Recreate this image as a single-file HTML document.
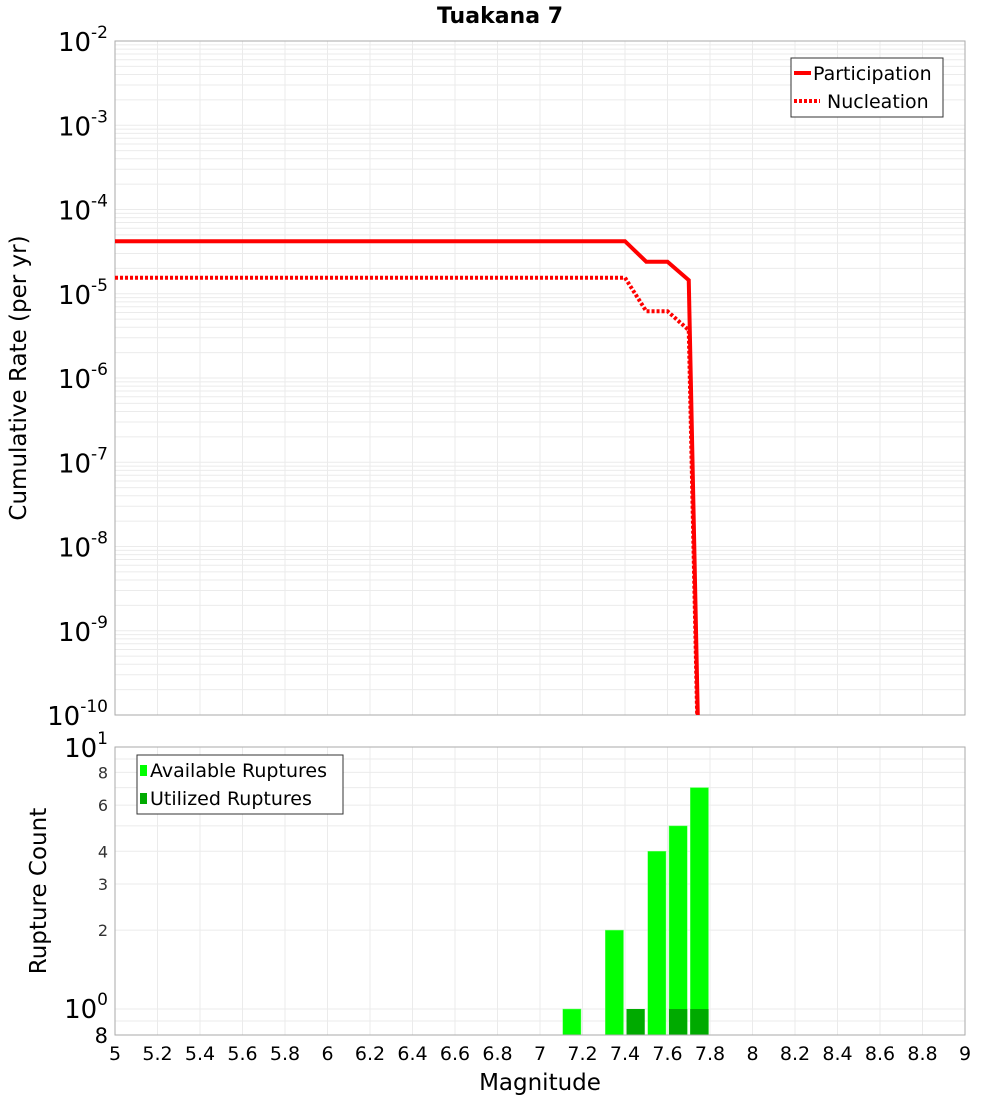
<!DOCTYPE html>
<html><head><meta charset="utf-8"><style>
html,body{margin:0;padding:0;background:#fff;overflow:hidden;width:1000px;height:1100px}
svg{display:block}
svg text{font-family:"DejaVu Sans","Liberation Sans",sans-serif}
</style></head><body>
<svg id="c" width="1000" height="1100" xmlns="http://www.w3.org/2000/svg"></svg>
<script>
const mags=[5,7.4,7.5,7.6,7.7,7.8];
const partRates=[4.2e-5,4.2e-5,2.4e-5,2.4e-5,1.45e-5,1e-17];
const nuclRates=[1.55e-5,1.55e-5,6.2e-6,6.2e-6,3.7e-6,1e-17];
const binMags=[7.1,7.3,7.4,7.5,7.6,7.7];
const availCounts=[1,2,0,4,5,7];
const utilCounts=[0,0,1,0,1,1];
const xTicks=[5,5.2,5.4,5.6,5.8,6,6.2,6.4,6.6,6.8,7,7.2,7.4,7.6,7.8,8,8.2,8.4,8.6,8.8,9];
const yExps=[-2,-3,-4,-5,-6,-7,-8,-9,-10];
const cntLabels=[8,6,4,3,2];

const NS='http://www.w3.org/2000/svg',svg=document.getElementById('c');
function mk(t,a,p){const e=document.createElementNS(NS,t);for(const k in a)e.setAttribute(k,a[k]);(p||svg).appendChild(e);return e;}
const X0=115,X1=965;
const x=m=>X0+(m-5)/4*(X1-X0);
const T0=41,T1=715;
const yT=v=>T0+(-2-Math.log10(v))/8*(T1-T0);
const B0=747,B1=1035,DEC=262;
const yB=v=>1009-Math.log10(v)*DEC;

let g=mk('g',{});

for(let e=-10;e<-2;e++)for(let k=1;k<10;k++){const y=yT(k*Math.pow(10,e));mk('line',{x1:X0,x2:X1,y1:y,y2:y,stroke:'#ebebeb','stroke-width':1},g);}
xTicks.forEach(m=>mk('line',{x1:x(m),x2:x(m),y1:T0,y2:T1,stroke:'#ebebeb'},g));
let r=mk('rect',{x:X0,y:T0,width:X1-X0,height:T1-T0,fill:'none',stroke:'#aaa'});

yExps.forEach(e=>{const t=mk('text',{x:108,y:yT(Math.pow(10,e))+10,'text-anchor':'end','font-size':26});

t.innerHTML='10<tspan dy="-13" font-size="17">'+e+'</tspan>';});
const clip=mk('clipPath',{id:'cp'});mk('rect',{x:X0,y:T0,width:X1-X0,height:T1-T0},clip);
const pp=mk('polyline',{points:mags.map((m,i)=>x(m)+','+yT(partRates[i])).join(' '),fill:'none',stroke:'#f00','stroke-width':4,'clip-path':'url(#cp)'});

const np=mk('polyline',{points:mags.map((m,i)=>x(m)+','+yT(nuclRates[i])).join(' '),fill:'none',stroke:'#f00','stroke-width':4,'stroke-dasharray':'3,2','clip-path':'url(#cp)'});

let lg=mk('g',{});
mk('rect',{x:791,y:58,width:152,height:59,fill:'#fff',stroke:'#333'},lg);
mk('line',{x1:794,x2:811,y1:73,y2:73,stroke:'#f00','stroke-width':4},lg);
mk('line',{x1:794,x2:820,y1:101,y2:101,stroke:'#f00','stroke-width':4,'stroke-dasharray':'3,2'},lg);
mk('text',{x:813,y:80,'font-size':19},lg).textContent='Participation';
mk('text',{x:827,y:108,'font-size':19},lg).textContent='Nucleation';
let t=mk('text',{x:500,y:23,'text-anchor':'middle','font-size':22,'font-weight':'bold'});t.textContent='Tuakana 7';

t=mk('text',{x:0,y:0,'text-anchor':'middle','font-size':23,transform:'translate(26,378) rotate(-90)'});t.textContent='Cumulative Rate (per yr)';


let g2=mk('g',{});
[0.9,1,2,3,4,5,6,7,8,9].forEach(v=>mk('line',{x1:X0,x2:X1,y1:yB(v),y2:yB(v),stroke:'#ebebeb'},g2));
xTicks.forEach(m=>mk('line',{x1:x(m),x2:x(m),y1:B0,y2:B1,stroke:'#ebebeb'},g2));
binMags.forEach((m,i)=>{
 const x0=x(m)+1.5,w=x(m+0.1)-x(m)-3;
 if(availCounts[i]>0){const b=mk('rect',{x:x0,y:yB(availCounts[i]),width:w,height:B1-yB(availCounts[i]),fill:'#00ff00',stroke:'#7f7',"stroke-width":0.5});
 }
 if(utilCounts[i]>0){const b=mk('rect',{x:x0,y:yB(utilCounts[i]),width:w,height:B1-yB(utilCounts[i]),fill:'#00aa00'});
 }
});
r=mk('rect',{x:X0,y:B0,width:X1-X0,height:B1-B0,fill:'none',stroke:'#aaa'});

t=mk('text',{x:108,y:757,'text-anchor':'end','font-size':26});t.innerHTML='10<tspan dy="-13" font-size="17">1</tspan>';

t=mk('text',{x:108,y:1018,'text-anchor':'end','font-size':26});t.innerHTML='10<tspan dy="-13" font-size="17">0</tspan>';

t=mk('text',{x:108,y:1043,'text-anchor':'end','font-size':21});t.textContent='8';

cntLabels.forEach(v=>{const t=mk('text',{x:108,y:yB(v)+6,'text-anchor':'end','font-size':16,fill:'#333'});t.textContent=v;
});
xTicks.forEach(m=>{const t=mk('text',{x:x(m),y:1060,'text-anchor':'middle','font-size':19});t.textContent=String(m);
});
t=mk('text',{x:540,y:1090,'text-anchor':'middle','font-size':23});t.textContent='Magnitude';

t=mk('text',{x:0,y:0,'text-anchor':'middle','font-size':23,transform:'translate(46,891) rotate(-90)'});t.textContent='Rupture Count';

let lg2=mk('g',{});
mk('rect',{x:137,y:755,width:206,height:59,fill:'#fff',stroke:'#333'},lg2);
mk('rect',{x:140,y:765,width:7,height:11,fill:'#00ff00'},lg2);
mk('rect',{x:140,y:793,width:7,height:11,fill:'#00aa00'},lg2);
mk('text',{x:150,y:777,'font-size':19},lg2).textContent='Available Ruptures';
mk('text',{x:150,y:805,'font-size':19},lg2).textContent='Utilized Ruptures';
</script>
</body></html>
